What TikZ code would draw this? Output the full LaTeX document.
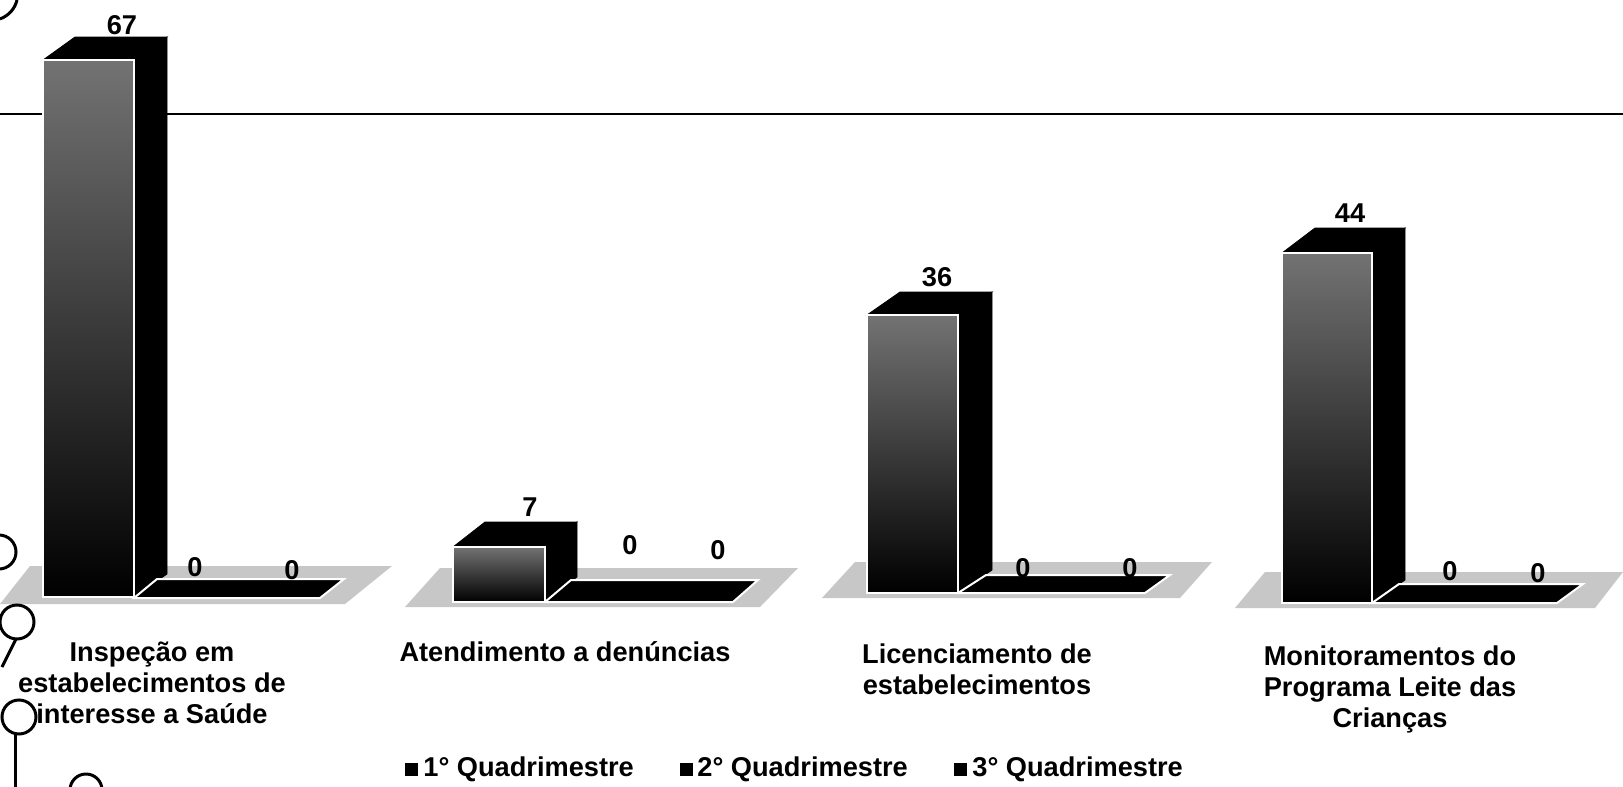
\documentclass[tikz,border=0pt]{standalone}
\usepackage{fontspec}
\setmainfont{Liberation Sans}
\newcommand\chartfont{\bfseries\fontsize{13.6}{15.5}\selectfont}
\begin{document}
\begin{tikzpicture}
                [x=0.5pt, y=-0.5pt,
                barfront/.style={top color=black!55, middle color=black, bottom color=black, draw=white, line width=1pt},
                barface/.style={fill=black, draw=black, line width=0.4pt},
                slab/.style={fill=black, draw=white, line width=1pt},
                floor/.style={fill=black!22, draw=none},
                value/.style={font=\chartfont, inner sep=0pt},
                category/.style={font=\chartfont, align=center, inner sep=0pt},
                legendbox/.style={fill=black, minimum size=6.5pt, inner sep=0pt},
                legendtext/.style={font=\chartfont, anchor=west, inner sep=0pt},
                hole/.style={draw=black, line width=1.5pt},]

                \useasboundingbox (0,0) rectangle (1623,787);

                \draw[line width=1pt] (0,114) -- (1623,114);

                % Inspecao
                \fill[floor] (0,604) -- (345,604) -- (392,566) -- (30,566) -- cycle;
                \filldraw[barface] (134,60) -- (167,37) -- (167,574) -- (134,597) -- cycle;
                \filldraw[barface] (43,60) -- (75,37) -- (167,37) -- (134,60) -- cycle;
                \shade[barfront] (43,60) rectangle (134,597);
                \filldraw[slab] (134,598) -- (157,579) -- (344,579) -- (320,598) -- cycle;
                \node[value] (v11) at (122,25) {67};
                \node[value] (v12) at (195,567) {0};
                \node[value] (v13) at (292,570) {0};

                % Atendimento
                \fill[floor] (405,607) -- (760,607) -- (798,568) -- (440,568) -- cycle;
                \filldraw[barface] (545,547) -- (577,522) -- (577,577) -- (545,602) -- cycle;
                \filldraw[barface] (453,547) -- (485,522) -- (577,522) -- (545,547) -- cycle;
                \shade[barfront] (453,547) rectangle (545,602);
                \filldraw[slab] (545,602) -- (571,580) -- (758,580) -- (733,602) -- cycle;
                \node[value] (v21) at (530,507) {7};
                \node[value] (v22) at (630,545) {0};
                \node[value] (v23) at (718,550) {0};

                % Licenciamento
                \fill[floor] (822,598) -- (1180,598) -- (1212,562) -- (855,562) -- cycle;
                \filldraw[barface] (958,315) -- (992,292) -- (992,570) -- (958,593) -- cycle;
                \filldraw[barface] (867,315) -- (900,292) -- (992,292) -- (958,315) -- cycle;
                \shade[barfront] (867,315) rectangle (958,593);
                \filldraw[slab] (958,593) -- (986,575) -- (1170,575) -- (1145,593) -- cycle;
                \node[value] (v31) at (937,277) {36};
                \node[value] (v32) at (1023,568) {0};
                \node[value] (v33) at (1130,568) {0};

                % Monitoramentos
                \fill[floor] (1235,608) -- (1595,608) -- (1623,572) -- (1265,572) -- cycle;
                \filldraw[barface] (1372,253) -- (1405,228) -- (1405,580) -- (1372,603) -- cycle;
                \filldraw[barface] (1282,253) -- (1315,228) -- (1405,228) -- (1372,253) -- cycle;
                \shade[barfront] (1282,253) rectangle (1372,603);
                \filldraw[slab] (1372,603) -- (1399,584) -- (1583,584) -- (1557,603) -- cycle;
                \node[value] (v41) at (1350,213) {44};
                \node[value] (v42) at (1450,571) {0};
                \node[value] (v43) at (1538,573) {0};

                \node[category] (c1) at (152,683) {Inspeção em\\estabelecimentos de\\interesse a Saúde};
                \node[category] (c2) at (565,652) {Atendimento a denúncias};
                \node[category] (c3) at (977,669) {Licenciamento de\\estabelecimentos};
                \node[category] (c4) at (1390,689) {Monitoramentos do\\Programa Leite das\\Crianças};

                \node[legendbox] (k1) at (411,769) {};
                \node[legendtext] (t1) at (423,769) {1° Quadrimestre};
                \node[legendbox] (k2) at (686,769) {};
                \node[legendtext] (t2) at (697,769) {2° Quadrimestre};
                \node[legendbox] (k3) at (960,769) {};
                \node[legendtext] (t3) at (972,769) {3° Quadrimestre};

                \draw[hole] (0,19) .. controls (10,15) and (15,8) .. (17,0);
                \draw[hole] (-1,552) circle[radius=17];
                \draw[hole] (17,622) circle[radius=17];
                \draw[hole] (16,639) -- (2,667);
                \draw[hole] (19,717) circle[radius=17];
                \draw[hole] (15,734) -- (15,787);
                \draw[hole] (86,790) circle[radius=16];

            \end{tikzpicture}
\end{document}
